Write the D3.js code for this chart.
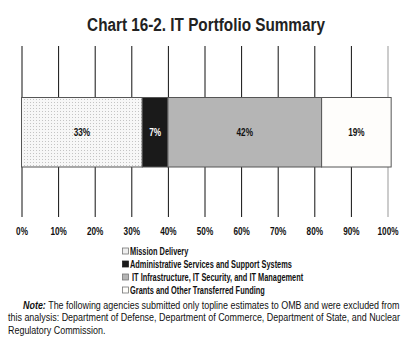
<!DOCTYPE html>
<html>
<head>
<meta charset="utf-8">
<script src="https://cdn.jsdelivr.net/npm/d3@7"></script>
<style>
  body { margin: 0; background: #fff; }
  text { font-family: "Liberation Sans", Arial, sans-serif; }
</style>
</head>
<body>
<div id="chart"></div>
<script>
// chart data
const categories = ["Mission Delivery", "Administrative Services and Support Systems",
  "IT Infrastructure, IT Security, and IT Management", "Grants and Other Transferred Funding"];
const shares = [33, 7, 42, 19];
const tickValues = [0, 10, 20, 30, 40, 50, 60, 70, 80, 90, 100];
const fills = ["url(#dots)", "#1a1a1a", "#b5b5b5", "#fefdfb"];
const labelColors = ["#111", "#fff", "#111", "#111"];
const titleText = "Chart 16-2.  IT Portfolio Summary";
const noteLines = [
  " The following agencies submitted only topline estimates to OMB and were excluded from",
  "this analysis: Department of Defense, Department of Commerce, Department of State, and Nuclear",
  "Regulatory Commission."];

const width = 416, height = 353;

const svg = d3.select("#chart")
  .append("svg")
  .attr("width", width)
  .attr("height", height);

// measure text so we can squeeze it like the condensed face in the original
function measure(str, size, weight) {
  const t = svg.append("text")
    .style("font-size", size + "px")
    .style("font-weight", weight)
    .text(str);
  const w = t.node().getComputedTextLength();
  t.remove();
  return w;
}

const titleSx = 238 / measure("Chart 16-2. IT Portfolio Summary", 19, "bold");
const tickSx = 21 / measure("100%", 11, "bold");
const legendSx = 162 / measure(categories[1], 10.5, "bold");
const noteSx = 392 / measure(noteLines[1], 10.5, "normal");

// dotted fill for mission delivery
const pat = svg.append("defs").append("pattern")
  .attr("id", "dots")
  .attr("width", 3)
  .attr("height", 3)
  .attr("patternUnits", "userSpaceOnUse");
pat.append("rect").attr("width", 3).attr("height", 3).attr("fill", "#f7f7f7");
pat.append("rect").attr("width", 1).attr("height", 1).attr("fill", "#c4c4c4");

svg.append("text")
  .attr("transform", "translate(206,30.5) scale(" + titleSx + ",1)")
  .attr("text-anchor", "middle")
  .style("font-size", "19px")
  .style("font-weight", "bold")
  .attr("fill", "#222")
  .text(titleText.replace("  ", " "));

const x = d3.scaleLinear()
  .domain([0, 100])
  .range([21.5, 387.5]);

// gridlines + tick labels
const axis = svg.append("g")
  .attr("transform", "translate(0,217)")
  .call(d3.axisBottom(x)
    .tickValues(tickValues)
    .tickSize(-171)
    .tickPadding(11)
    .tickFormat(d => d + "%"));
axis.select(".domain").remove();
axis.attr("font-family", null).attr("font-size", null);
axis.selectAll("line").attr("stroke", (d) => d === 100 ? "#999" : "#111");
axis.selectAll("text")
  .attr("transform", "scale(" + tickSx + ",1)")
  .attr("dy", "0.6em")
  .style("font-size", "11px")
  .style("font-weight", "bold")
  .attr("fill", "#111");

// stacked segments
const starts = d3.cumsum([0].concat(shares.slice(0, -1)));
const segs = shares.map((v, i) => ({ v: v, s: starts[i], i: i }));

svg.append("g")
  .selectAll("rect")
  .data(segs).enter()
  .append("rect")
  .attr("x", d => x(d.s))
  .attr("y", 97.5)
  .attr("width", d => x(d.s + d.v) - x(d.s))
  .attr("height", 69.5)
  .attr("fill", d => fills[d.i])
  .attr("stroke", "#555")
  .attr("stroke-width", 1);

svg.append("g")
  .selectAll("text")
  .data(segs).enter()
  .append("text")
  .attr("transform", d => "translate(" + x(d.s + d.v / 2) + ",136) scale(" + tickSx + ",1)")
  .attr("text-anchor", "middle")
  .style("font-size", "11px")
  .style("font-weight", "bold")
  .attr("fill", d => labelColors[d.i])
  .text(d => d.v + "%");

// legend
const legend = svg.append("g")
  .selectAll("g")
  .data(categories).enter()
  .append("g")
  .attr("transform", (d, i) => "translate(122," + (251 + i * 13) + ")");

legend.append("rect")
  .attr("x", 0.5)
  .attr("y", -3)
  .attr("width", 6)
  .attr("height", 6)
  .attr("fill", (d, i) => i === 0 ? "#eee" : fills[i])
  .attr("stroke", (d, i) => i === 1 ? "#222" : "#777")
  .attr("stroke-width", 0.8);

legend.append("text")
  .attr("transform", (d, i) => "translate(" + (i === 2 ? 10 : 8) + ",3.6) scale(" + legendSx + ",1)")
  .style("font-size", "10.5px")
  .style("font-weight", "bold")
  .attr("fill", "#111")
  .text(d => d);

// note
const note = svg.append("g")
  .style("font-size", "10.5px")
  .attr("fill", "#111");
const l1 = note.append("text")
  .attr("transform", "translate(23,308.8) scale(" + noteSx + ",1)");
l1.append("tspan")
  .style("font-weight", "bold")
  .style("font-style", "italic")
  .text("Note:");
l1.append("tspan").text(noteLines[0]);
note.append("text")
  .attr("transform", "translate(8,321) scale(" + noteSx + ",1)")
  .text(noteLines[1]);
note.append("text")
  .attr("transform", "translate(8,333.5) scale(" + noteSx + ",1)")
  .text(noteLines[2]);
</script>
</body>
</html>
